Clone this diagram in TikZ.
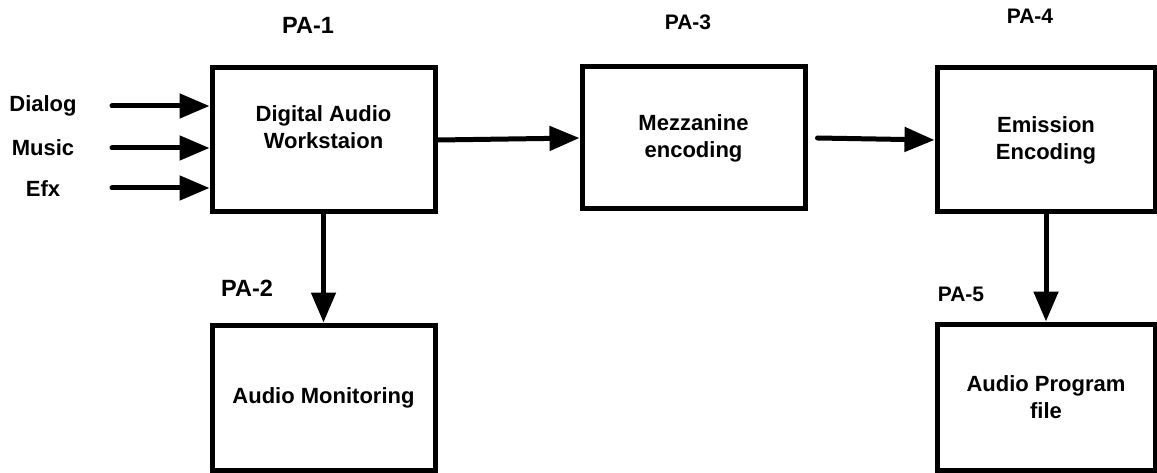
\documentclass[tikz,border=0pt]{standalone}
\usepackage{fontspec}
\setmainfont{Liberation Sans}
\usetikzlibrary{arrows.meta}

\tikzset{
  block/.style={draw, line width=5pt, minimum width=223pt, minimum height=144pt,
    inner sep=0pt, align=center, font=\fontsize{22}{27}\selectfont\bfseries},
  flow/.style={line width=5pt, line cap=round, -{Triangle[length=30pt,width=24pt]}},
  tag/.style={font=\fontsize{23.5}{27}\selectfont\bfseries},
  tagsmall/.style={font=\fontsize{21}{25}\selectfont\bfseries},
  src/.style={font=\fontsize{22}{25}\selectfont\bfseries}
}

\begin{document}
\begin{tikzpicture}[x=1pt,y=-1pt]
\useasboundingbox (0,0) rectangle (1157,473);

% blocks
\node[block, label={[align=center, font=\fontsize{22}{27}\selectfont\bfseries, yshift=13pt]center:Digital Audio\\Workstaion}] (daw) at (323.5,140) {};
\node[block, minimum height=142pt] (mezz) at (693.5,138) {Mezzanine\\encoding};
\node[block, minimum width=218pt] (emis) at (1046,140) {Emission\\Encoding};
\node[block, minimum height=145pt] (mon) at (323.5,397.5) {Audio Monitoring};
\node[block, minimum width=218pt, minimum height=146pt] (prog) at (1046,397) {Audio Program\\file};

% PA tags
\node[tag] (pa1) at (308,25) {PA-1};
\node[tag] (pa2) at (247,288) {PA-2};
\node[tagsmall] (pa3) at (688,22) {PA-3};
\node[tagsmall] (pa4) at (1030,16) {PA-4};
\node[tagsmall] (pa5) at (961,294) {PA-5};

% inputs
\node[src] (dialog) at (43,106) {Dialog};
\node[src] (music) at (43,148) {Music};
\node[src] (efx) at (43,189) {Efx};
\coordinate (in1) at (112,106);
\coordinate (in2) at (112,148);
\coordinate (in3) at (112,188);

\draw[flow] (in1) -- (in1 -| daw.west);
\draw[flow] (in2) -- (in2 -| daw.west);
\draw[flow] (in3) -- (in3 -| daw.west);

% connections
\draw[flow] (daw.east) -- (mezz.west);
\draw[flow] ([xshift=10pt]mezz.east) -- (emis.west);
\draw[flow] (daw.south) -- (mon.north);
\draw[flow] (emis.south) -- (prog.north);
\end{tikzpicture}
\end{document}
